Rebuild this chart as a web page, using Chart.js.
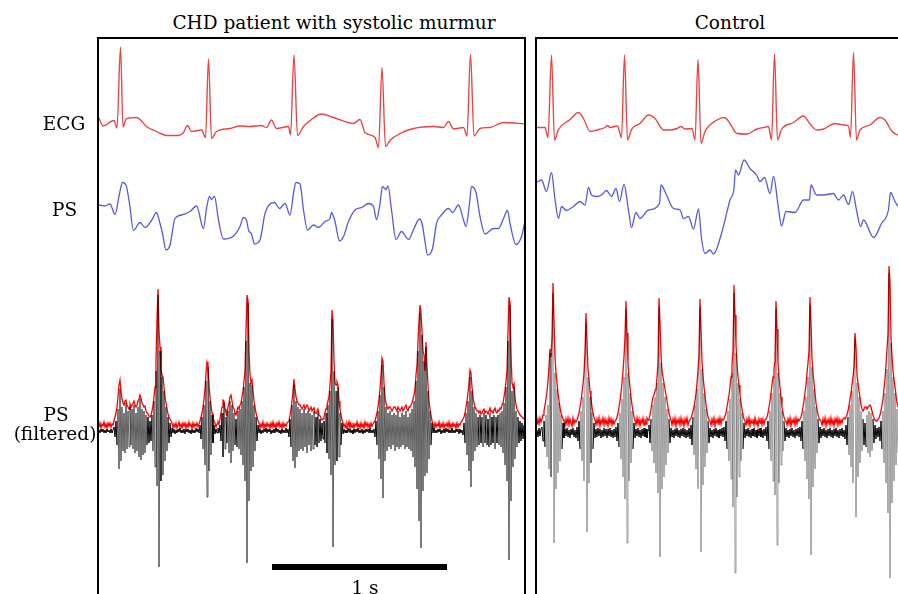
<!DOCTYPE html>
<html><head><meta charset="utf-8">
<script src="https://cdn.jsdelivr.net/npm/chart.js"></script>
<style>
html,body{margin:0;padding:0;width:898px;height:594px;overflow:hidden;background:#fff;}
.t{position:absolute;font-family:"DejaVu Serif",serif;font-size:18.5px;line-height:18.5px;color:#000;white-space:nowrap;text-align:center;width:400px;}
canvas{position:absolute;}
.box{position:absolute;border:2px solid #000;box-sizing:border-box;}
</style></head><body>
<canvas id="chd" width="426" height="555" style="left:99px;top:39px"></canvas>
<canvas id="ctrl" width="361" height="555" style="left:537px;top:39px"></canvas>
<div class="box" style="left:97px;top:37px;width:429px;height:620px"></div>
<div class="box" style="left:535px;top:37px;width:420px;height:620px"></div>
<div class="t" id="t0" style="left:134px;top:13.5px"></div>
<div class="t" id="t1" style="left:530px;top:13.5px"></div>
<div class="t" id="l0" style="left:-136px;top:115px"></div>
<div class="t" id="l1" style="left:-135.5px;top:201px"></div>
<div class="t" id="l2" style="left:-144px;top:406px"></div>
<div class="t" id="l3" style="left:-145px;top:425px"></div>
<div class="t" id="sb" style="left:165px;top:579px"></div>
<script>
// ---- text ----
const panelTitles = ["CHD patient with systolic murmur", "Control"];
const rowLabels = ["ECG", "PS", "PS", "(filtered)"];
const scaleBarLabel = "1 s";

// ---- time base: samples at 175 Hz ----
const FS = 175;
const scaleBarStart = 173;   // sample where the 1 s bar starts (CHD panel)
const scaleBarSeconds = 1;

// ---- ECG [sample, amplitude] ----
const ecgChd = [[0,7],[4,-1],[15,4.5],[18,-3],[21.5,78],[24,-2],[27,6],[37.5,7.5],[41,5.5],[47.5,-1.5],[57.5,-6.5],[67.5,-10.5],[79.5,-10.5],[84.5,-7.5],[88.5,-0.5],[92.5,-6.5],[102.5,-5],[106.5,-12.5],[109.5,66],[112.5,-13.5],[117.5,-6.5],[131,-3.5],[141,-1],[151,-1.5],[162.5,-0.5],[167.5,-2.5],[172.5,5],[177.5,-3.5],[189.5,-1.5],[191.5,-10],[195,70],[198.5,-10.5],[204.5,-1.5],[211,4.5],[222.5,11],[234.5,7.5],[254.5,1.5],[261,5.5],[266,-7.5],[276,-12.5],[279.5,-22.5],[283,57.5],[286.5,-21.5],[291,-15.5],[301,-8.5],[314.5,-3.5],[334.5,-1.5],[344.5,-2.5],[349.5,3.5],[354.5,-4],[364.5,-2.5],[368,-11],[371.5,70.5],[375,-11],[381,-3.5],[391,-2.5],[404.5,2.5],[427,1]];
const ecgCtrl = [[0,-2.5],[8,-2.5],[11,-12.5],[14.5,70],[17.5,-15],[21.5,-4.5],[33,5.5],[41.5,12.5],[46.5,6.5],[53,-6.5],[60,-5],[68,-2.5],[70.5,-0.5],[73,-2.5],[80.5,-1],[84.5,-12.5],[87.5,70],[90.5,-15],[94.5,-4.5],[103,1.5],[111.5,10],[118,6.5],[126.5,-5],[133,-5],[140,-3.5],[144,-1.5],[148,-4],[155,-3.5],[158,-15],[161,65.5],[164,-18.5],[168,-6.5],[180,5],[187.5,7.5],[193,1.5],[200,-8.5],[210,-9],[220,-4],[226.5,-2.5],[231.5,-1.5],[234.5,-15],[237.5,71],[240.5,-15],[244.5,-4.5],[256.5,2.5],[266.5,9],[273,1],[280,-5],[286.5,-4],[298,1.5],[306.5,0],[311.5,-1],[313.5,-12.5],[316.5,72.5],[319.5,-15],[323,-5],[333,0],[343,7.5],[348,5],[355,-6.5],[361,-10]];

// ---- PS [sample, amplitude] ----
const psChd = [[0,5],[6,4],[11,6],[16,-4.5],[20.5,16.5],[23.5,27.5],[27,25],[30.5,6.5],[34.5,-20.5],[41,-12.5],[46,-17.5],[52.5,-10.5],[57.5,-2.5],[60.5,-11.5],[63.5,-23.5],[67,-40],[71,-35],[76,-8.5],[82.5,-5],[91,-1.5],[97.5,4],[104.5,-18.5],[107.5,1.5],[110.5,13.5],[112.5,10.5],[115.5,13.5],[119.5,-10],[124.5,-29],[134.5,-26],[141,-16.5],[144.5,-7.5],[147.5,-10],[149.5,-20],[152.5,-24],[155.5,-34],[161,-30],[166,-3.5],[175.5,7.5],[180.5,1.5],[186,6.5],[191,-5],[195,20],[197,27.5],[201,26],[204.5,0],[208.5,-20],[214.5,-15],[219.5,-17.5],[226,-11.5],[231,-8.5],[232.5,-2.5],[236,-11.5],[240.5,-31],[244.5,-26.5],[249.5,-11.5],[256,0],[262.5,2.5],[269.5,6.5],[274.5,3.5],[277.5,-9.5],[281,6.5],[283.5,23.5],[287,20.5],[289,24],[292.5,0],[297,-29.5],[302.5,-21.5],[309.5,-29.5],[315,-18.5],[320.5,-9],[323,-13.5],[326,-31.5],[328.5,-45],[333.5,-38.5],[337.5,-13.5],[342.5,-5],[349.5,1.5],[353.5,-2.5],[359.5,5],[364.5,-10],[367,-16.5],[370.5,6.5],[372.5,23.5],[377,17.5],[381,-6.5],[386,-24],[394.5,-18.5],[399.5,-18.5],[404.5,-8.5],[408.5,-0.5],[411,-13.5],[417,-34.5],[422.5,-26.5],[427.5,-3.5]];
const psCtrl = [[0,28],[4.5,30],[9.5,18.5],[14.5,37.5],[18,10.5],[21.5,-8.5],[24.5,3.5],[29.5,-0.5],[36.5,3.5],[43,8.5],[48,5],[51.5,22.5],[54.5,15],[59.5,13.5],[64.5,15],[69.5,19.5],[74.5,13.5],[79,21.5],[82.5,8.5],[87,25.5],[91.5,0],[94.5,-17.5],[99,-2.5],[103,-8.5],[111.5,0],[122.5,6.5],[124,25],[129.5,15],[136.5,1.5],[143,0],[146.5,-8.5],[151.5,-6.5],[156.5,-19],[161.5,1],[164.5,-28.5],[168,-43.5],[173,-40],[176.5,-44],[184.5,-23.5],[193,10],[197,21.5],[198.5,40],[201.5,35],[207,50],[213,41.5],[219.5,35],[223,28.5],[227.5,32.5],[233,16.5],[236.5,33.5],[241.5,1.5],[244.5,-16],[249,-1.5],[258,-2.5],[266.5,10],[272.5,10],[274,25],[279.5,15],[286.5,15],[296.5,16.5],[301.5,10],[306.5,15],[311.5,5.5],[315.5,18.5],[319.5,0],[323.5,-16.5],[326.5,-10],[336.5,-27.5],[344.5,-13.5],[351.5,0.5],[353.5,17.5],[358,8.5],[361,3.5]];

// ---- filtered PS, one value per sample from sample 0 ----
const filtChd = [
1,-2,2,-1,2,-2,1,-2,2,-1,1,-2,2,-2,1,
4,-6,10,-14,22,-38,42,-30,24,-20,18,-22,28,-18,20,-16,24,-14,22,-18,26,-22,18,-20,24,-26,32,-29,22,-24,20,-22,16,-14,14,-12,10,
-10,16,-20,30,-36,60,-55,136,-136,80,-50,54,-44,40,-30,24,-20,14,-12,8,-6,
3,-2,2,-3,1,-2,2,-1,3,-2,1,-2,2,-3,2,-1,2,-2,1,-3,2,-2,1,-2,3,-1,2,-2,
6,-8,14,-18,26,-34,50,-66,64,-40,30,-24,16,-12,6,
-3,2,-2,3,-2,
6,-10,18,-26,28,-18,14,-12,20,-22,30,-32,26,-20,18,-14,12,-16,20,-18,22,-24,30,-34,44,-50,90,-132,128,-70,48,-40,46,-36,26,-20,14,-10,6,
-2,2,-3,1,-2,2,-1,3,-2,2,-1,2,-3,1,-2,2,-2,3,-1,2,-2,1,-3,2,-2,1,-2,3,-2,2,
-6,12,-16,26,-30,46,-37,30,-26,24,-20,22,-18,18,-20,22,-16,18,-22,20,-14,18,-20,16,-18,20,-14,14,-16,18,-12,12,-10,8,-8,
10,-12,18,-22,26,-28,40,-44,112,-116,60,-34,40,-30,44,-26,18,-14,8,
-3,2,-2,1,-2,3,-1,2,-2,1,-3,2,-2,2,-1,3,-2,1,-2,2,-3,1,-2,2,-1,2,-2,3,-2,1,-2,2,
-6,10,-14,20,-28,36,-48,66,-67,44,-30,24,-20,18,-16,20,-18,16,-14,18,-20,16,-16,20,-18,14,-16,18,-14,16,-18,20,-16,14,-18,18,-20,22,-26,30,-36,50,-58,80,
-90,118,-117,96,-60,70,-45,84,-42,40,-28,20,-14,8,
-2,3,-2,1,-2,2,-1,2,-3,1,-2,2,-2,3,-1,2,-2,1,-2,3,-2,1,-2,2,-1,2,-3,2,-2,1,
-4,8,-12,18,-24,30,-40,54,-56,40,-30,24,-20,18,-16,14,
-14,16,-12,14,-16,18,-12,16,-14,12,-16,18,-14,14,-12,16,-18,14,-12,16,-14,18,-16,20,-22,28,-34,
44,-50,90,-129,126,-70,40,-36,44,-28,20,-16,14,
-12,10,-10,8,-8,6,-4];
const envChd = [
4,8,3,7,5,9,4,7,3,8,5,8,4,7,6,
10,14,18,24,34,46,51,40,32,28,26,30,31,26,24,22,27,24,26,28,30,26,24,26,30,32,36,33,28,26,24,25,20,18,17,15,14,
16,20,26,34,44,70,110,142,100,84,62,56,54,44,34,28,22,17,14,12,10,
8,3,7,4,8,3,6,9,4,7,3,8,5,8,3,7,4,9,5,7,3,8,4,7,5,8,4,7,
10,14,18,24,32,42,58,69,66,46,34,26,18,14,10,
8,4,7,9,7,
12,18,24,31,30,22,18,16,24,28,34,36,30,24,22,18,16,20,24,22,26,28,34,40,50,60,100,136,130,80,56,48,51,40,30,24,18,14,10,
8,3,7,4,9,3,7,4,8,5,7,3,8,4,9,4,7,3,8,5,9,4,7,3,8,4,7,5,8,9,
10,16,22,30,40,52,42,34,30,28,26,26,24,22,24,26,22,24,26,24,20,22,24,20,22,24,18,18,20,22,16,15,13,11,12,
14,18,22,26,30,34,46,60,121,110,70,48,46,49,46,30,22,16,11,
8,4,7,3,8,5,9,3,7,4,8,3,7,5,9,4,7,3,8,4,7,3,9,5,8,4,7,3,8,5,7,9,
10,14,18,24,32,42,56,73,70,48,34,28,24,22,24,24,22,20,22,24,24,22,20,24,22,20,22,24,20,22,24,26,22,20,24,24,26,28,32,36,42,56,66,90,
110,126,118,100,80,76,60,89,64,46,30,22,16,10,
7,3,8,4,7,5,9,3,7,4,8,3,7,5,8,4,9,3,7,4,8,5,7,3,8,4,7,6,9,10,
12,14,18,24,30,38,48,61,58,44,34,28,24,22,20,20,
18,20,17,18,21,22,18,20,19,17,20,23,19,20,18,21,23,19,18,21,20,23,22,26,28,34,40,
50,60,100,134,128,78,48,44,47,34,26,22,20,
18,16,15,14,13,12,12];
const filtCtrl = [
3,-4,5,-3,4,
6,-8,12,-14,18,-24,28,-36,80,-44,60,140,-110,60,-56,44,-40,30,-28,18,-16,10,
-5,4,-3,5,-4,3,-5,4,-2,5,-4,3,-5,
6,-8,12,-16,22,-28,36,-48,70,110,-99,56,-50,36,-30,20,-16,10,
-5,4,-4,5,-3,4,-5,3,-4,5,-3,4,-5,4,-3,5,-4,3,-5,4,-4,
6,-8,10,-14,20,-26,34,-44,56,-66,124,-110,60,-48,40,-30,22,-16,10,
-5,4,-3,5,-4,3,-5,4,-3,5,-4,4,-5,3,
8,-10,14,-18,28,-30,36,-40,50,-60,126,-124,70,-56,50,-44,36,-32,24,-20,14,-10,
5,-4,3,-5,4,-3,5,-4,3,-5,4,-3,5,-4,4,-5,3,-4,5,
-6,8,-12,16,-22,28,-36,44,-56,70,126,-119,64,-52,40,-34,24,-20,12,-10,
5,-4,3,-5,4,-3,5,-4,3,-5,4,-3,5,-4,
6,-8,12,-16,22,-28,34,-46,60,-74,140,-140,80,-64,50,-44,34,-28,20,-16,10,
-5,4,-3,5,-4,3,-5,4,-3,5,-4,3,-5,4,-3,5,-4,3,-5,4,-3,
6,-8,12,-16,22,-28,40,-48,56,-62,124,-112,60,-50,40,-32,22,-18,12,-8,
5,-4,3,-5,4,-3,5,-4,3,-5,4,-3,5,-4,
6,-8,12,-16,22,-28,36,-46,56,-66,128,-122,66,-54,44,-36,26,-20,14,-10,6,
-5,4,-3,5,-4,3,-5,4,-3,5,-4,3,-5,4,-3,5,-4,3,-5,4,-3,5,-4,3,
-6,8,-12,16,-22,28,-34,42,-50,60,94,-84,50,-44,36,-30,22,-18,14,-12,10,
-14,18,-20,22,-24,20,-18,14,-10,8,-6,
5,-4,
6,-8,12,-16,22,-30,40,-50,64,-80,160,-145,90,-70,56,-48,40,-32,24,-20];
const envCtrl = [
8,14,9,15,11,
14,18,22,28,34,42,52,66,84,76,96,150,112,76,60,50,40,32,26,20,17,14,
12,7,14,9,15,8,14,10,7,15,9,13,11,
13,16,20,26,32,40,48,60,80,120,90,64,54,42,34,26,20,16,
13,8,14,9,15,7,13,10,15,8,14,9,13,7,15,10,14,8,13,9,12,
13,16,20,26,32,40,50,62,76,96,132,100,70,56,46,36,28,22,16,
13,8,15,9,14,7,13,10,15,8,14,9,15,13,
14,18,24,30,36,38,42,44,56,70,135,110,78,62,56,50,44,38,32,26,20,16,
13,8,14,9,15,7,13,10,14,8,15,9,13,7,14,10,15,8,12,
13,15,18,22,26,32,40,50,62,78,134,104,72,58,46,38,28,22,16,13,
12,8,14,9,15,7,13,10,14,8,15,9,14,13,
14,17,20,26,32,38,46,56,68,82,148,118,88,70,56,48,38,30,24,18,14,
12,8,14,9,15,7,13,10,14,8,15,9,13,7,14,10,15,8,14,9,13,
14,16,20,26,32,40,48,56,64,72,132,104,70,56,46,36,26,20,16,13,
12,8,14,9,15,7,13,10,14,8,15,9,14,12,
14,16,20,26,32,40,48,60,70,82,136,110,74,60,50,40,30,24,18,15,13,
12,8,14,9,15,7,13,10,14,8,15,9,13,7,14,10,15,8,14,9,13,10,14,15,
14,16,18,22,28,34,40,48,56,66,100,86,58,50,42,36,28,24,22,24,26,
26,24,26,27,28,26,22,18,15,13,12,
12,14,
15,18,22,28,34,44,54,68,84,100,167,150,96,76,62,54,46,38,30,26];

// ---- layout (vertical trace offsets, 1 unit = 1 px) ----
const Y_ECG = -86, Y_PS = -171, Y_FILT_CHD = -392, Y_FILT_CTRL = -394, Y_BAR = -528;

document.getElementById('t0').textContent = panelTitles[0];
document.getElementById('t1').textContent = panelTitles[1];
rowLabels.forEach((s,i)=>document.getElementById('l'+i).textContent = s);
document.getElementById('sb').textContent = scaleBarLabel;

const pairs = (a,off)=>a.map(p=>({x:p[0], y:p[1]+off}));
const seq = (a,off)=>a.map((v,i)=>({x:i, y:v+off}));

function make(id, xmax, ecg, ps, filt, env, yf, steepColor, extra){
  const ds = [
    {data:pairs(ecg,Y_ECG), borderColor:'#ec4242', borderWidth:1.35, cubicInterpolationMode:'monotone', order:3},
    {data:pairs(ps,Y_PS), borderColor:'#5858e6', borderWidth:1.3, cubicInterpolationMode:'monotone', order:3},
    {data:seq(env,yf), borderColor:'#ff0000', borderWidth:1.3, order:2},
    {data:seq(filt,yf), borderColor:'#000000', borderWidth:1, order:1,
     segment:{borderColor: c => Math.abs(c.p0.parsed.y - c.p1.parsed.y) > 28 ? steepColor : '#000000'}}
  ].concat(extra||[]);
  new Chart(document.getElementById(id), {
    type:'line',
    data:{datasets:ds},
    options:{
      responsive:false, animation:false, parsing:false, normalized:true,
      events:[],
      layout:{padding:0},
      plugins:{legend:{display:false}, tooltip:{enabled:false}, title:{display:false}},
      elements:{point:{radius:0}, line:{tension:0, fill:false}},
      scales:{
        x:{type:'linear', display:false, min:0, max:xmax},
        y:{type:'linear', display:false, min:-555, max:0}
      }
    }
  });
}
make('chd', 426, ecgChd, psChd, filtChd, envChd, Y_FILT_CHD, 'rgba(0,0,0,0.62)', [
  {data:[{x:scaleBarStart,y:Y_BAR},{x:scaleBarStart+FS*scaleBarSeconds,y:Y_BAR}], borderColor:'#000', borderWidth:6, borderCapStyle:'butt', order:0}
]);
make('ctrl', 361, ecgCtrl, psCtrl, filtCtrl, envCtrl, Y_FILT_CTRL, 'rgba(0,0,0,0.36)');
</script>
</body></html>
